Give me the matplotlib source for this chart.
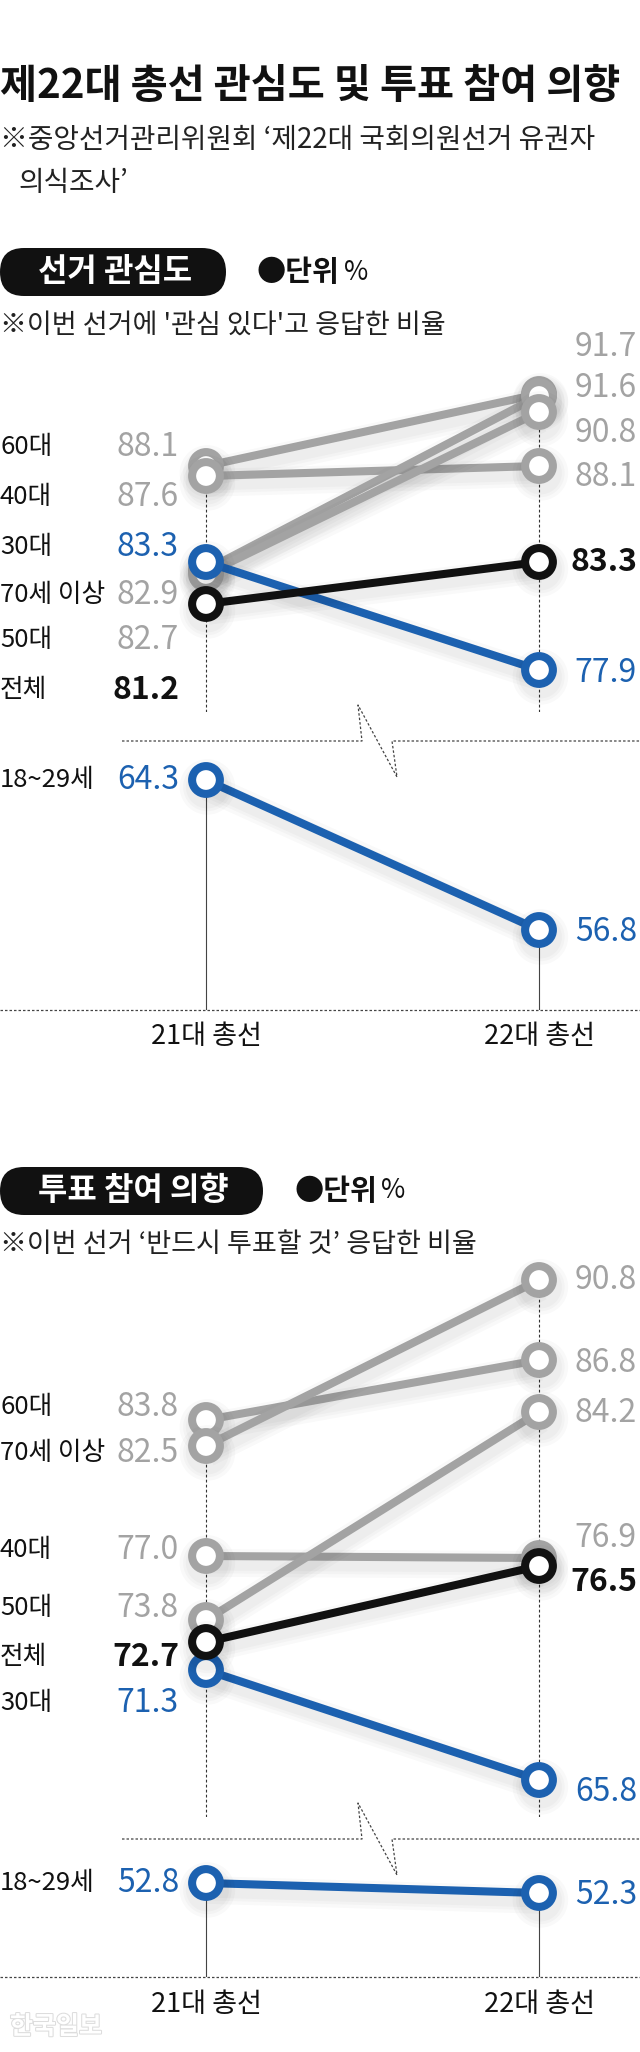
import matplotlib
matplotlib.use("Agg")
import matplotlib.pyplot as plt
from matplotlib.patches import FancyBboxPatch
from matplotlib import transforms
import matplotlib.patheffects as pe

plt.rcParams["font.family"] = ["Noto Sans CJK KR", "DejaVu Sans"]

GRAY = "#a3a3a3"
BLUE = "#1c61b0"
BLACK = "#111111"

elections = ["21대 총선", "22대 총선"]

# 선거 관심도 (%)
interest_groups = ["60대", "40대", "30대", "70세 이상", "50대", "전체", "18~29세"]
interest_21 = [88.1, 87.6, 83.3, 82.9, 82.7, 81.2, 64.3]
interest_22 = [91.7, 88.1, 77.9, 91.6, 90.8, 83.3, 56.8]

# 투표 참여 의향 (%)
vote_groups = ["60대", "70세 이상", "40대", "50대", "전체", "30대", "18~29세"]
vote_21 = [83.8, 82.5, 77.0, 73.8, 72.7, 71.3, 52.8]
vote_22 = [86.8, 90.8, 76.9, 84.2, 76.5, 65.8, 52.3]

lower_group = "18~29세"   # drawn below the axis break

# ---- layout (pixels of the 640x2052 canvas) ----
W, H = 640, 2052
COL0, COL1 = 206, 539      # x of the two elections
PPU = 20                   # px per %p

# label y positions (px), same order as the groups
interest_left_y = [447, 497, 547, 595, 640, 690, 780]
interest_right_y = [347, 477, 673, 388, 433, 562, 932]
vote_left_y = [1407, 1453, 1550, 1608, 1657, 1703, 1883]
vote_right_y = [1363, 1280, 1538, 1413, 1582, 1792, 1895]


def group_color(g):
    if g in ("30대", "18~29세"):
        return BLUE
    if g == "전체":
        return BLACK
    return GRAY


fig = plt.figure(figsize=(W / 100, H / 100), dpi=100)
bg = fig.add_axes([0, 0, 1, 1])
bg.set_xlim(0, W)
bg.set_ylim(H, 0)
bg.axis("off")


def panel(top, bottom, ref_val, ref_px):
    ax = fig.add_axes([0, 1 - bottom / H, 1, (bottom - top) / H])
    ax.set_xlim(-COL0 / (COL1 - COL0), (W - COL0) / (COL1 - COL0))
    ax.set_ylim(ref_val - (bottom - ref_px) / PPU, ref_val + (ref_px - top) / PPU)
    ax.axis("off")
    return ax


shadow = [pe.SimpleLineShadow(offset=(1, -5), shadow_color="k", alpha=0.025, linewidth=w)
          for w in (20, 15, 11)] + [pe.Normal()]


def draw_chart(groups, v21, v22, up_box, low_box, break_y, bottom_y, xlabel_y):
    up = panel(*up_box)
    low = panel(*low_box)
    up_idx = [i for i, g in enumerate(groups) if g != lower_group]
    low_idx = [i for i, g in enumerate(groups) if g == lower_group]

    # guide lines
    for col, vals in ((0, v21), (1, v22)):
        top_val = max(vals[i] for i in up_idx)
        up.vlines(col, up.get_ylim()[0], top_val, colors="#333333", lw=0.8,
                  linestyles=(0, (2.5, 2)), zorder=1)
        for i in low_idx:
            low.vlines(col, low.get_ylim()[0], vals[i], colors="#444444", lw=0.8, zorder=1)

    order = {GRAY: 2, BLUE: 3, BLACK: 4}
    for idxs, ax in ((up_idx, up), (low_idx, low)):
        for i in idxs:
            c = group_color(groups[i])
            ax.plot([0, 1], [v21[i], v22[i]], color=c, lw=5.8, marker="o", ms=20,
                    mew=5.8, mfc="white", mec=c, solid_capstyle="butt",
                    zorder=order[c], clip_on=False, path_effects=shadow)

    # break line with zigzag
    dot = dict(color="#444444", lw=0.9, linestyle=(0, (2, 1.6)))
    bg.plot([122, 362, 358, 397, 392, 640],
            [break_y, break_y, break_y - 36, break_y + 36, break_y, break_y], **dot)
    bg.plot([0, 640], [bottom_y, bottom_y], **dot)

    tr = transforms.blended_transform_factory(low.transData, bg.transData)
    for col, lab in enumerate(elections):
        low.text(col, xlabel_y, lab, transform=tr, ha="center", va="center",
                 fontsize=19.5, color="#111111")


def draw_labels(groups, v21, v22, left_y, right_y):
    for g, a, b, ly, ry in zip(groups, v21, v22, left_y, right_y):
        c = group_color(g)
        wt = "bold" if c == BLACK else "normal"
        bg.text(0, ly, g, ha="left", va="center", fontsize=18.5, color="#111111")
        bg.text(179, ly, f"{a:.1f}", ha="right", va="center", fontsize=23,
                color=c, fontweight=wt)
        bg.text(637, ry, f"{b:.1f}", ha="right", va="center", fontsize=23,
                color=c, fontweight=wt)


def header(text, box_w, y, note, note_y):
    bg.add_patch(FancyBboxPatch((0, y - 24), box_w, 48,
                                boxstyle="round,pad=0,rounding_size=24",
                                fc="#111111", ec="none"))
    bg.text(box_w / 2 + 2, y, text, ha="center", va="center", fontsize=23,
            fontweight="bold", color="white")
    u = bg.text(box_w + 31, y, "●단위", ha="left", va="center", fontsize=21,
                fontweight="bold", color="#111111")
    bg.annotate("%", xy=(1, 0.5), xycoords=u, xytext=(3, 0), textcoords="offset points",
                ha="left", va="center", fontsize=19, color="#111111")
    bg.text(0, note_y, note, ha="left", va="center", fontsize=19.5, color="#222222")


# title
bg.text(0, 86, "제22대 총선 관심도 및 투표 참여 의향", ha="left", va="center",
        fontsize=29, fontweight="bold", color="#111111")
bg.text(0, 140, "※중앙선거관리위원회 ‘제22대 국회의원선거 유권자", ha="left", va="center",
        fontsize=20, fontweight="light", color="#222222")
bg.text(18, 183, "의식조사’", ha="left", va="center",
        fontsize=20, fontweight="light", color="#222222")

# chart 1
header("선거 관심도", 226, 272, "※이번 선거에 '관심 있다'고 응답한 비율", 325)
draw_chart(interest_groups, interest_21, interest_22,
           (330, 712, 83.3, 562), (745, 1010, 64.3, 780), 741, 1010, 1037)
draw_labels(interest_groups, interest_21, interest_22, interest_left_y, interest_right_y)

# chart 2
header("투표 참여 의향", 263, 1191, "※이번 선거 ‘반드시 투표할 것’ 응답한 비율", 1245)
draw_chart(vote_groups, vote_21, vote_22,
           (1255, 1817, 90.8, 1280), (1845, 1977, 52.8, 1883), 1839, 1977, 2005)
draw_labels(vote_groups, vote_21, vote_22, vote_left_y, vote_right_y)

# watermark
bg.text(10, 2027, "한국일보", ha="left", va="center", fontsize=18, fontweight="bold",
        color="white", path_effects=[pe.withStroke(linewidth=1.5, foreground="#dddddd")])

fig.savefig("out.png", dpi=100)
